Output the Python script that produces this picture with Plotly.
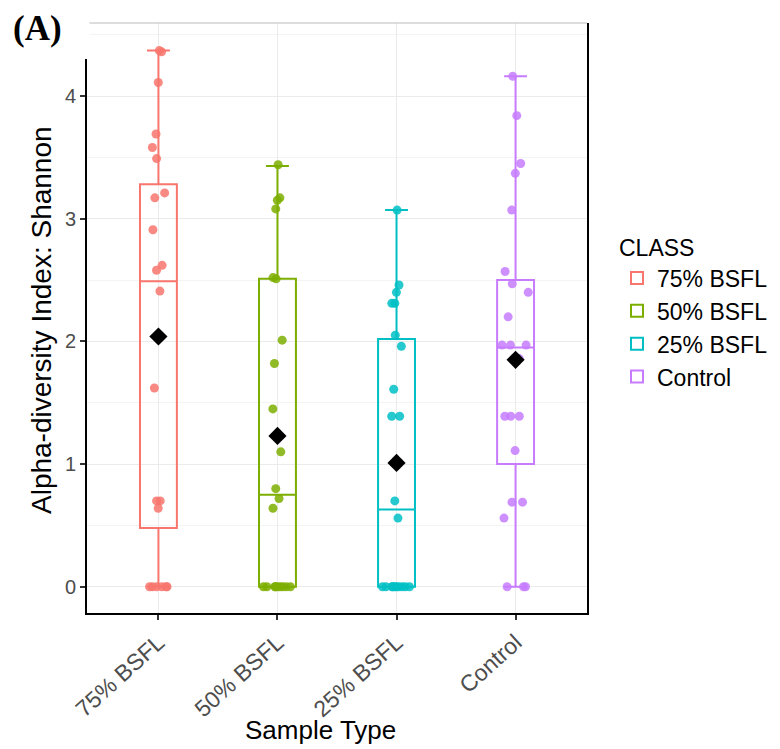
import plotly.graph_objects as go

# ---- data ----
categories = ["75% BSFL", "50% BSFL", "25% BSFL", "Control"]
colors = ["#F8766D", "#7CAE00", "#00BFC4", "#C77CFF"]

bsfl75 = [4.37, 4.36, 4.11, 3.69, 3.58, 3.49, 3.21, 3.17, 2.91, 2.62, 2.58,
          2.41, 1.62, 0.70, 0.70, 0.64, 0, 0, 0, 0, 0, 0]
bsfl50 = [3.44, 3.17, 3.15, 3.08, 2.52, 2.51, 2.01, 1.82, 1.45, 1.10, 0.80,
          0.72, 0.64, 0, 0, 0, 0, 0, 0, 0, 0, 0]
bsfl25 = [3.07, 2.46, 2.40, 2.31, 2.31, 2.05, 1.96, 1.61, 1.39, 1.39, 0.70,
          0.56, 0, 0, 0, 0, 0, 0, 0, 0, 0, 0]
control = [4.16, 3.84, 3.45, 3.37, 3.07, 2.57, 2.47, 2.40, 2.20, 1.97, 1.97,
           1.97, 1.86, 1.39, 1.39, 1.39, 1.11, 0.69, 0.69, 0.56, 0, 0, 0]
series = [bsfl75, bsfl50, bsfl25, control]

q1 = [0.48, 0.0, 0.0, 1.00]
median = [2.49, 0.75, 0.63, 1.95]
q3 = [3.28, 2.51, 2.02, 2.50]
lowerfence = [0.0, 0.0, 0.0, 0.0]
upperfence = [4.37, 3.43, 3.07, 4.16]
means = [2.04, 1.23, 1.01, 1.85]

y_ticks = [0, 1, 2, 3, 4]

fig = go.Figure()

# summary boxes (legend entries)
for i, cat in enumerate(categories):
    fig.add_trace(go.Box(
        x=[cat], q1=[q1[i]], median=[median[i]], q3=[q3[i]],
        lowerfence=[lowerfence[i]], upperfence=[upperfence[i]],
        name=cat, legendgroup=cat, width=0.31, whiskerwidth=0.62,
        line=dict(color=colors[i], width=2),
        fillcolor="rgba(0,0,0,0)", boxpoints=False, hoverinfo="skip",
    ))

# jittered sample points
for i, cat in enumerate(categories):
    fig.add_trace(go.Box(
        x=[cat] * len(series[i]), y=series[i], name=cat, legendgroup=cat,
        showlegend=False, boxpoints="all", jitter=0.9, pointpos=0,
        width=0.31, line=dict(width=0, color="rgba(0,0,0,0)"),
        fillcolor="rgba(0,0,0,0)",
        marker=dict(color=colors[i], size=9, opacity=0.85),
    ))

# means
fig.add_trace(go.Scatter(
    x=categories, y=means, mode="markers", showlegend=False,
    marker=dict(symbol="diamond", color="black", size=14),
))

grid = "#EBEBEB"
fig.update_layout(
    width=780, height=749,
    margin=dict(l=79, r=201, t=15, b=144, autoexpand=False),
    paper_bgcolor="white", plot_bgcolor="white",
    font=dict(family="Liberation Sans, Arial, sans-serif", color="black"),
    boxmode="overlay",
    xaxis=dict(
        type="category", categoryorder="array", categoryarray=categories,
        range=[-0.6, 3.6], showgrid=True, gridcolor=grid, gridwidth=1,
        showline=True, linecolor="black", linewidth=2,
        ticks="outside", ticklen=5, tickcolor="#333333", tickwidth=1.5,
        tickangle=-42, tickfont=dict(size=23, color="#4D4D4D"),
        zeroline=False,
    ),
    yaxis=dict(
        range=[-0.2135, 4.595], tickvals=y_ticks,
        showgrid=True, gridcolor=grid, gridwidth=1,
        minor=dict(dtick=0.5, tick0=0, showgrid=True, gridcolor="#F4F4F4",
                   gridwidth=0.8),
        showline=True, linecolor="black", linewidth=2, mirror=True,
        ticks="outside", ticklen=5, tickcolor="#333333", tickwidth=1.5,
        tickfont=dict(size=20, color="#4D4D4D"),
        zeroline=False,
    ),
    legend=dict(
        title=dict(text="CLASS", font=dict(size=23, color="black")),
        font=dict(size=23, color="black"),
        x=1.06, xanchor="left", y=0.655, yanchor="top",
        bgcolor="rgba(0,0,0,0)", tracegroupgap=0,
    ),
    shapes=[
        dict(type="line", xref="paper", yref="paper", x0=0, x1=1, y0=1, y1=1,
             line=dict(color="#BBBBBB", width=1), layer="above"),
        dict(type="rect", xref="paper", yref="paper", x0=-0.2, x1=0.005,
             y0=0.939, y1=1.05, fillcolor="white", line=dict(width=0),
             layer="above"),
    ],
    annotations=[
        dict(text="<b>(A)</b>", xref="paper", yref="paper", x=-0.152, y=0.991,
             xanchor="left", yanchor="middle", showarrow=False,
             font=dict(family="Liberation Serif, Times New Roman, serif",
                       size=35, color="black")),
        dict(text="Alpha-diversity Index: Shannon", xref="paper", yref="paper",
             x=-0.092, y=0.4966, xanchor="center", yanchor="middle",
             textangle=-90, showarrow=False,
             font=dict(size=28, color="black")),
        dict(text="Sample Type", xref="paper", yref="paper",
             x=0.466, y=-0.198, xanchor="center", yanchor="middle",
             showarrow=False, font=dict(size=26, color="black")),
    ],
)

fig.write_html("out.html")
